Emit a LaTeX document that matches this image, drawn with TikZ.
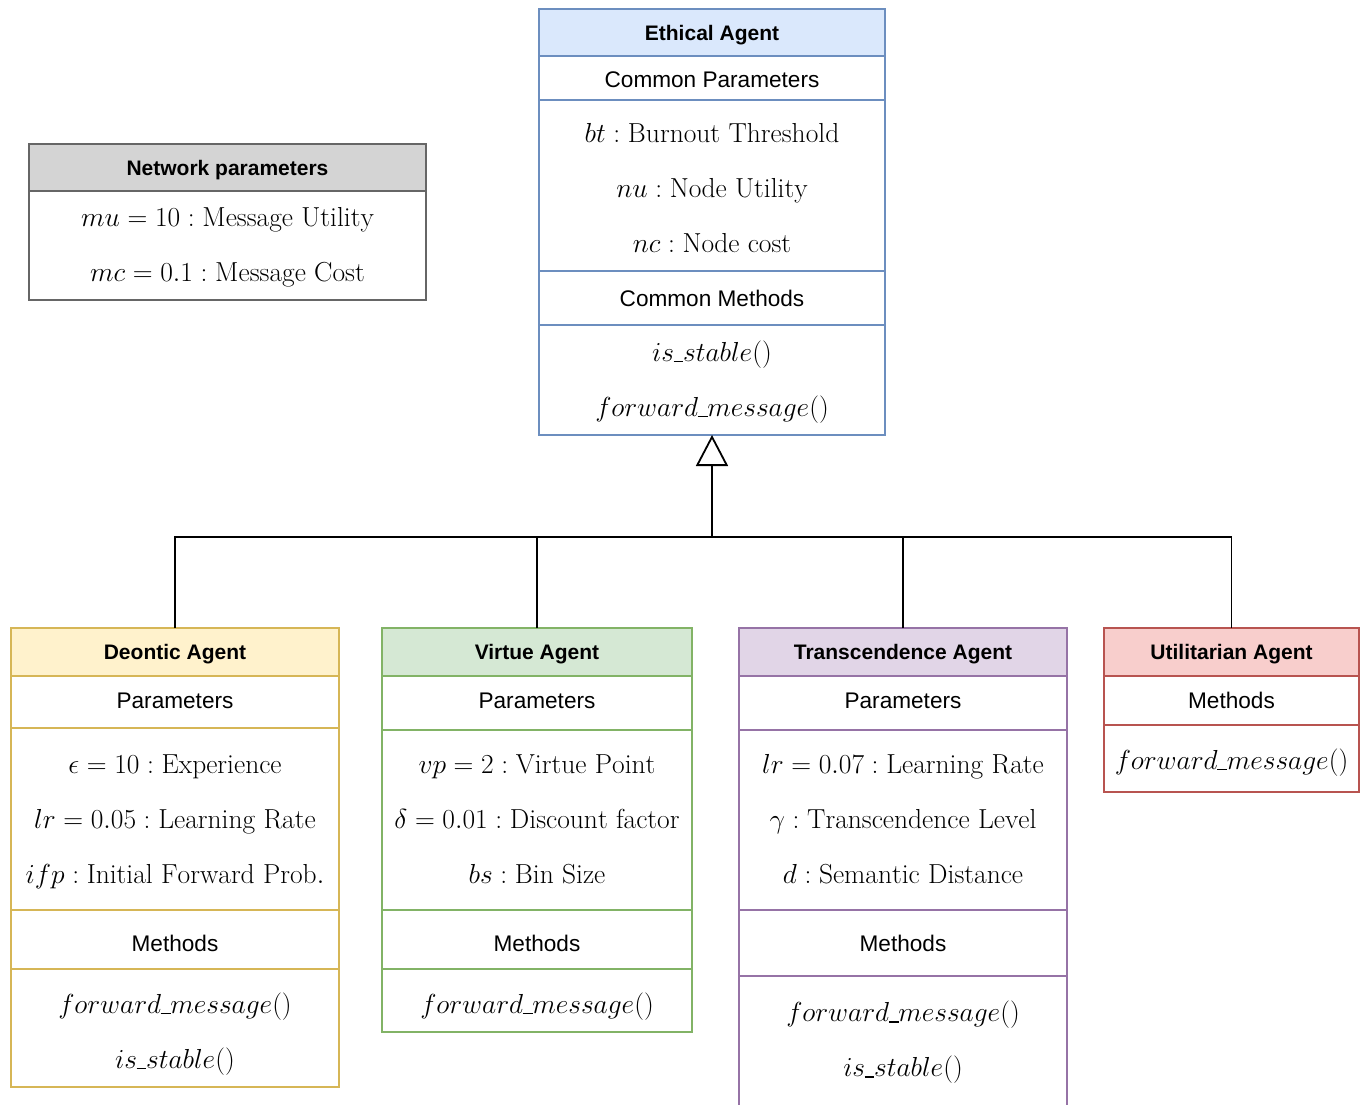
\RequirePackage{fix-cm}
\documentclass[tikz,border=0pt]{standalone}
\usepackage{fontspec}
\newfontfamily\sansf{Liberation Sans}
\usetikzlibrary{arrows.meta,calc}
\newcommand{\usc}{\mathord{\kern-0.02em\rule[-0.03em]{0.36em}{0.045em}\kern-0.01em}}
\definecolor{ethF}{HTML}{DAE8FC}\definecolor{ethD}{HTML}{6C8EBF}
\definecolor{netF}{HTML}{D4D4D4}\definecolor{netD}{HTML}{666666}
\definecolor{deoF}{HTML}{FFF2CC}\definecolor{deoD}{HTML}{D6B656}
\definecolor{virF}{HTML}{D5E8D4}\definecolor{virD}{HTML}{82B366}
\definecolor{traF}{HTML}{E1D5E7}\definecolor{traD}{HTML}{9673A6}
\definecolor{utiF}{HTML}{F8CECC}\definecolor{utiD}{HTML}{B85450}
\begin{document}
\begin{tikzpicture}[x=1pt,y=-1pt,
  comp/.style={draw, line width=2pt, inner sep=0pt, outer sep=0pt},
  mtxt/.style={inner sep=0pt, align=center, font=\fontsize{27.5}{55}\selectfont},
  stxt/.style={inner sep=0pt, text depth=0pt, font=\sansf\fontsize{22.6}{27}\selectfont},
  htxt/.style={inner sep=0pt, text depth=0pt, font=\sansf\bfseries\fontsize{21}{26}\selectfont},
  conn/.style={line width=1.6pt, black},
  inherit/.style={conn, -{Triangle[open, length=31pt, width=32pt, line width=1.8pt]}}]
\useasboundingbox (0,0) rectangle (1363,1105);
\clip (0,0) rectangle (1363,1105);
\fill[white] (0,0) rectangle (1363,1105);

% ---------------- Network parameters
\node[comp, draw=netD, fill=netF, minimum width=397pt, minimum height=47pt] (net1) at (227.5,167.5) {};
\node[comp, draw=netD, minimum width=397pt, minimum height=109pt] (net2) at (227.5,245.5) {};
\node[htxt] (net1t) at (net1.center) {Network parameters};
\node[mtxt] (net2t) at ($(net2.center)+(0,2)$)
  {$mu = 10 : \mathrm{Message\ Utility}$\\ $mc = 0.1 : \mathrm{Message\ Cost}$};

% ---------------- Ethical Agent
\node[comp, draw=ethD, fill=ethF, minimum width=346pt, minimum height=47pt] (eth1) at (712,32.5) {};
\node[comp, draw=ethD, minimum width=346pt, minimum height=44pt] (eth2) at (712,78) {};
\node[comp, draw=ethD, minimum width=346pt, minimum height=171pt] (eth3) at (712,185.5) {};
\node[comp, draw=ethD, minimum width=346pt, minimum height=54pt] (eth4) at (712,298) {};
\node[comp, draw=ethD, minimum width=346pt, minimum height=110pt] (eth5) at (712,380) {};
\node[htxt] (eth1t) at (eth1.center) {Ethical Agent};
\node[stxt] (eth2t) at ($(eth2.center)+(0,2)$) {Common Parameters};
\node[mtxt] (eth3t) at ($(eth3.center)+(0,3)$)
  {$bt : \mathrm{Burnout\ Threshold}$\\ $nu : \mathrm{Node\ Utility}$\\ $nc : \mathrm{Node\ cost}$};
\node[stxt] (eth4t) at (eth4.center) {Common Methods};
\node[mtxt] (eth5t) at ($(eth5.center)+(0,2)$) {$is\usc stable()$\\ $forward\usc message()$};

% ---------------- Deontic Agent
\node[comp, draw=deoD, fill=deoF, minimum width=328pt, minimum height=48pt] (deo1) at (175,652) {};
\node[comp, draw=deoD, minimum width=328pt, minimum height=52pt] (deo2) at (175,702) {};
\node[comp, draw=deoD, minimum width=328pt, minimum height=182pt] (deo3) at (175,819) {};
\node[comp, draw=deoD, minimum width=328pt, minimum height=59pt] (deo4) at (175,939.5) {};
\node[comp, draw=deoD, minimum width=328pt, minimum height=118pt] (deo5) at (175,1028) {};
\node[htxt] (deo1t) at (deo1.center) {Deontic Agent};
\node[stxt] (deo2t) at ($(deo2.center)+(0,-1)$) {Parameters};
\node[mtxt] (deo3t) at ($(deo3.center)+(0,3)$)
  {$\epsilon = 10 : \mathrm{Experience}$\\ $lr = 0.05 : \mathrm{Learning\ Rate}$\\ $ifp : \mathrm{Initial\ Forward\ Prob.}$};
\node[stxt] (deo4t) at ($(deo4.center)+(0,4)$) {Methods};
\node[mtxt] (deo5t) at ($(deo5.center)+(0,6)$) {$forward\usc message()$\\ $is\usc stable()$};

% ---------------- Virtue Agent
\node[comp, draw=virD, fill=virF, minimum width=310pt, minimum height=48pt] (vir1) at (537,652) {};
\node[comp, draw=virD, minimum width=310pt, minimum height=54pt] (vir2) at (537,703) {};
\node[comp, draw=virD, minimum width=310pt, minimum height=180pt] (vir3) at (537,820) {};
\node[comp, draw=virD, minimum width=310pt, minimum height=59pt] (vir4) at (537,939.5) {};
\node[comp, draw=virD, minimum width=310pt, minimum height=63pt] (vir5) at (537,1000.5) {};
\node[htxt] (vir1t) at (vir1.center) {Virtue Agent};
\node[stxt] (vir2t) at ($(vir2.center)+(0,-2)$) {Parameters};
\node[mtxt] (vir3t) at ($(vir3.center)+(0,-1)$)
  {$vp = 2 : \mathrm{Virtue\ Point}$\\ $\delta = 0.01 : \mathrm{Discount\ factor}$\\ $bs : \mathrm{Bin\ Size}$};
\node[stxt] (vir4t) at ($(vir4.center)+(0,4)$) {Methods};
\node[mtxt] (vir5t) at ($(vir5.center)+(0,6)$) {$forward\usc message()$};

% ---------------- Transcendence Agent
\node[comp, draw=traD, fill=traF, minimum width=328pt, minimum height=48pt] (tra1) at (903,652) {};
\node[comp, draw=traD, minimum width=328pt, minimum height=54pt] (tra2) at (903,703) {};
\node[comp, draw=traD, minimum width=328pt, minimum height=180pt] (tra3) at (903,820) {};
\node[comp, draw=traD, minimum width=328pt, minimum height=66pt] (tra4) at (903,943) {};
\node[comp, draw=traD, minimum width=328pt, minimum height=131pt] (tra5) at (903,1041.5) {};
\node[htxt] (tra1t) at (tra1.center) {Transcendence Agent};
\node[stxt] (tra2t) at ($(tra2.center)+(0,-2)$) {Parameters};
\node[mtxt] (tra3t) at ($(tra3.center)+(0,-1)$)
  {$lr = 0.07 : \mathrm{Learning\ Rate}$\\ $\gamma : \mathrm{Transcendence\ Level}$\\ $d : \mathrm{Semantic\ Distance}$};
\node[stxt] (tra4t) at (tra4.center) {Methods};
\node[mtxt] (tra5t) at ($(tra5.center)+(0,1)$) {$forward\usc message()$\\ $is\usc stable()$};

% ---------------- Utilitarian Agent
\node[comp, draw=utiD, fill=utiF, minimum width=255pt, minimum height=48pt] (uti1) at (1231.5,652) {};
\node[comp, draw=utiD, minimum width=255pt, minimum height=49pt] (uti2) at (1231.5,700.5) {};
\node[comp, draw=utiD, minimum width=255pt, minimum height=67pt] (uti3) at (1231.5,758.5) {};
\node[htxt] (uti1t) at (uti1.center) {Utilitarian Agent};
\node[stxt] (uti2t) at (uti2.center) {Methods};
\node[mtxt] (uti3t) at ($(uti3.center)+(0,4)$) {$forward\usc message()$};

% ---------------- Inheritance connectors
\coordinate (bus) at (712,537);
\draw[conn] (deo1.north) |- (bus);
\draw[conn] (vir1.north) |- (bus);
\draw[conn] (tra1.north) |- (bus);
\draw[conn] (uti1.north) |- (bus);
\draw[inherit] (bus) -- (eth5.south);
\end{tikzpicture}
\end{document}
